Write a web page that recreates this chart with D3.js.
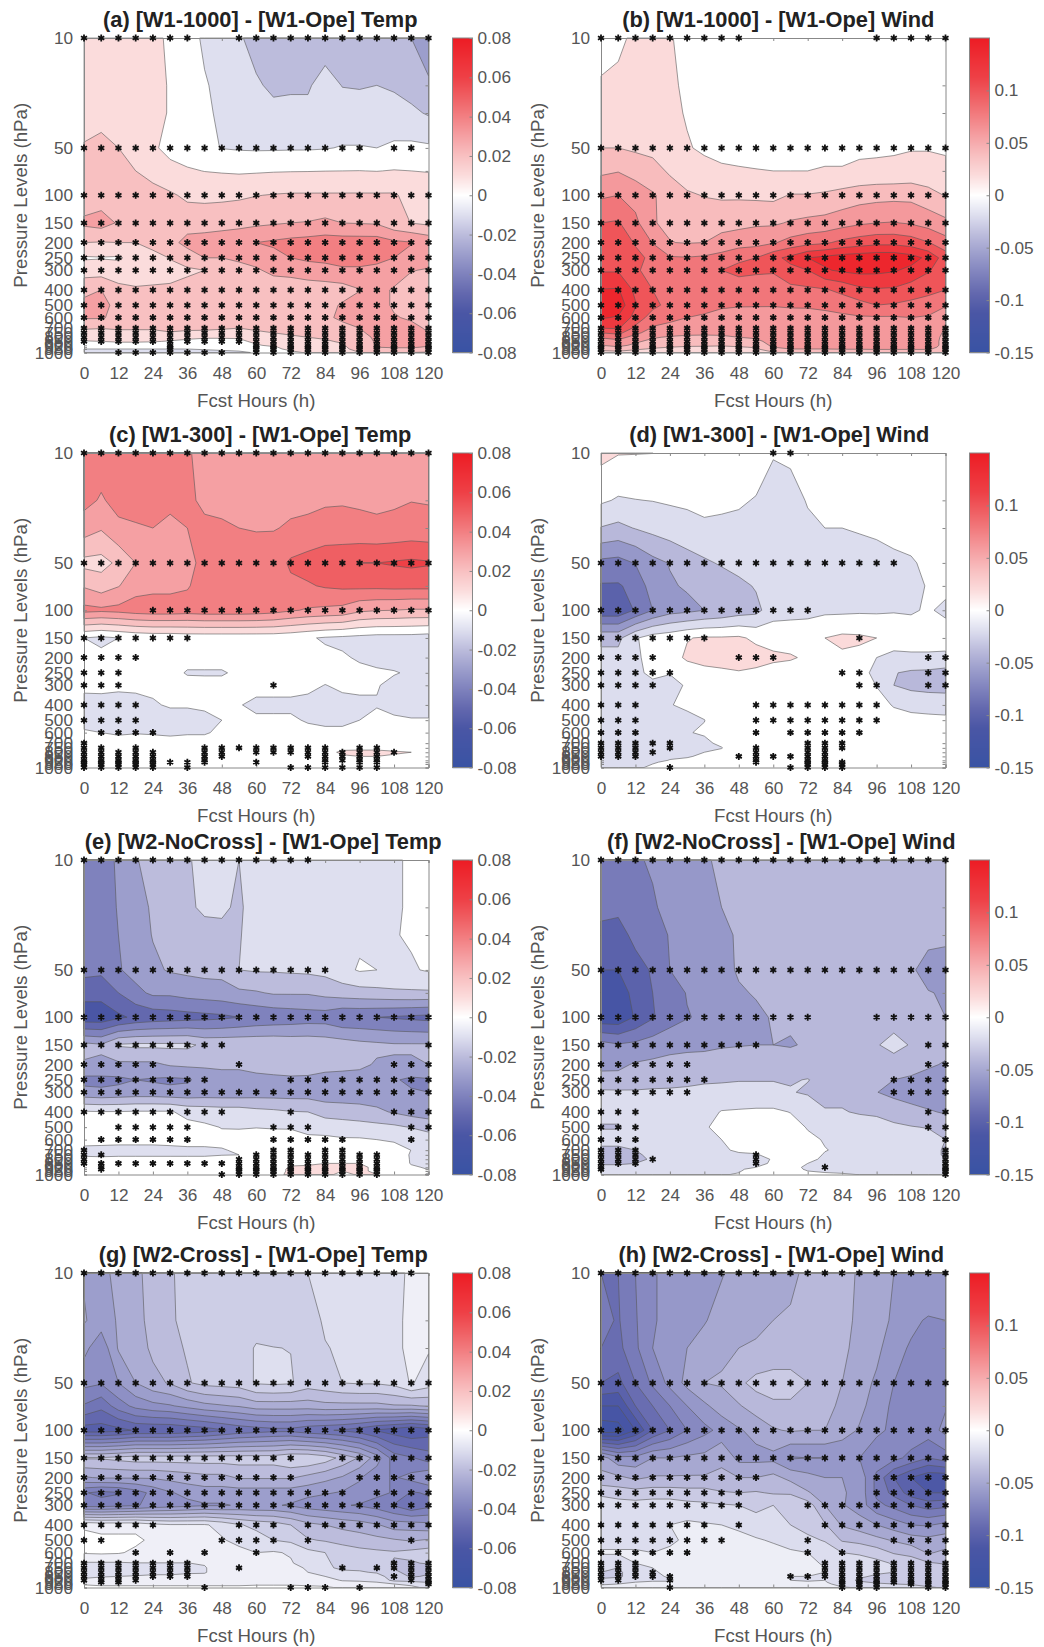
<!DOCTYPE html>
<html>
<head>
<meta charset="utf-8">
<script src="https://d3js.org/d3.v7.min.js"></script>
<style>
  body { margin: 0; background: #fff; }
  text { font-family: "Liberation Sans", Arial, sans-serif; fill: #555; }
  .title { font-weight: bold; fill: #222; font-size: 21.8px; }
  .axis-label { font-size: 18.7px; }
  .tick text { font-size: 17.2px; fill: #555; }
  .tick line, .domain { stroke: #888; }
</style>
</head>
<body>
<div id="chart"></div>
<script>
// Axes
const levels = [10, 20, 30, 50, 70, 100, 150, 200, 250, 300, 400, 500, 600, 700, 750, 800, 850, 900, 925, 950, 1000];
const starLevels = [10, 50, 100, 150, 200, 250, 300, 400, 500, 600, 700, 750, 800, 850, 900, 925, 950, 1000];
const fcstHours = d3.range(0, 121, 6);
const hourTicks = [0, 12, 24, 36, 48, 60, 72, 84, 96, 108, 120];
const tempTicks = [-0.08, -0.06, -0.04, -0.02, 0, 0.02, 0.04, 0.06, 0.08];
const windTicks = [-0.15, -0.1, -0.05, 0, 0.05, 0.1];

const titles = [
  "(a) [W1-1000] - [W1-Ope] Temp", "(b) [W1-1000] - [W1-Ope] Wind",
  "(c) [W1-300] - [W1-Ope] Temp", "(d) [W1-300] - [W1-Ope] Wind",
  "(e) [W2-NoCross] - [W1-Ope] Temp", "(f) [W2-NoCross] - [W1-Ope] Wind",
  "(g) [W2-Cross] - [W1-Ope] Temp", "(h) [W2-Cross] - [W1-Ope] Wind"
];

// Differences in units of 0.001. Rows follow levels, columns follow fcstHours.
const aTemp = [
  [10,10,10,10,8,3,0,-7,-9,-14,-18,-19,-20,-20,-20,-20,-20,-20,-22,-25,-29],
  [10,10,10,10,9,4,-1,-4,-8,-11,-14,-16.5,-16,-16,-11.4,-15.3,-15.7,-15,-16,-19,-24],
  [10,10,10,10,9,4,-1,-3,-7,-9,-11,-13,-13,-13,-10,-11,-11,-11,-12,-13,-16],
  [16,19,15,13,6,3,0,-3,-5.3,-6,-6.3,-6.2,-6,-6,-5.5,-4.5,-4.5,-5,-3.2,-3,-3.5],
  [18,19,17.5,15,12,7,6,4.8,4.2,3.7,4,4.4,4.6,4.7,4.9,5,5.1,4.8,5.4,5,4.6],
  [19,20,20,19,18,16.5,13,12.5,13,13.5,14.7,15.5,16,16,16,16,16,16,16,12,11],
  [27,29,24,22,22,21,21,21,21,22,23,24,25,25.5,27,25,24.5,24,18,14.8,13],
  [15,14.5,15,15,20,22,28,29,31,32,35,36.5,38,39,40,40,40,40,37,35.5,32],
  [4,4.5,4,8,10,15.5,20,25,25,27,28,32,35,37,38,40,40,38,35,32,30],
  [10,10,9,9,10,12,13.5,15,18,21,24,27,28,30,31,33,33,32,30,25.5,24],
  [23,25,18,16.3,16.7,16.5,18,19,20,21,22,20,19.7,20,20.5,21,24.6,28,24,20,19],
  [27,27,23,22,22,22,22,22,22,22,22,22,22,22,22,26,29,28,24,21,20],
  [26,26,22,20,20,20,20,20,20,21,21,21,21,22,23,27,29,29,25.6,24,23],
  [16,15.2,15.5,15.5,15.5,17,16,15.8,15.5,15,16,17,18,19,20,22,25,27,27,27,24],
  [12,13,14,14,14,14.5,14,14,13.5,13,14,15,16,17,18,21,24,27,27,27,25],
  [8,9,10,10,10,8,7,6,6,6,10,12,14,15,16,18,23,26,27,27,27],
  [4.5,5,6,6,5.5,4.5,3,2,2,3,7,9,11,13,14,16,21,26,27,27,28],
  [1,1,1,1,1,1,1,1,1,1,4,7,9,11,12,14,20,25.5,27,27,26],
  [-2,-2,-2,-2,-2,-2,-2,-1.5,-1,-1,1,4,8,10,11,13.5,19,25,25.5,26,24],
  [-5,-5,-5,-5,-5,-5,-5,-4.5,-4,-3.5,-1.5,3,7,9,10,13,18,24,24,23,21],
  [-8,-8,-8,-8,-8,-8,-8,-7,-6.5,-6,-4.5,1.5,3,6,8,12,15,15,15,15,14]
];

// These were easier to read hour by hour, so each line below is one column
const bWind = d3.transpose([
  [2,12,15,30,46,67,90,98,104,108,131,145,132,110,90,72,60,50,45,38,20],
  [6,14,15,30,49,70,92,103,108,108,132,142,128,112,95,78,64,55,48,40,24],
  [14,15,16,27,42,62,75,88,96,92,105,112,103,85,75,62,53,46,40,33,20],
  [14,15,15,24,38,52,51,69,85,85,90,96,80,68,60,52,45,38,33,28,12],
  [11,12,13,17,27,42,47,50.5,72,82,85,83,75,64,58,48,40,35,30,25,14],
  [6,8,9,11,18,33,45,49,71,83,85,80,70,62,55,46,38,33,28,23,13],
  [3,5,6,8,14,29,43,50,73,85,87,77,67,60,54,46,38,32,28,23,14],
  [3,4,5,6,12,27,44,56,78,90,86,72,65,60,54,47,38,31,28,26,22],
  [3,4,5,6,11,27,45,60,88,93,84,71,64,60,56,50,42,33,29,26,22],
  [3,4,4,5,10.5,26,47,63,90,92,83,71,63,60,56,52,46,38,31,28,24],
  [3,3,4,5,10,25,47,68,105,92,80,71,62,60,58,57,56,54,50,44,28],
  [3,3,4,5,10,31,52,77,115,105,84,72,63,60,58,57,56,55,53,50,35],
  [3,3,4,5,10,31,55,83,130,110,86,72,64,60,58,57,56,55,53,50,35],
  [3,3,4,6,11,33,57,87,135,128,88,73,66,61,59,58,57,55,53,50,35],
  [2,3,4,6,11,37,62,95,140,133,95,78,66,62,60,58,57,56,54,51,36],
  [2,3,4,7,13,41,67,100,142,136,105,83,68,62,60,59,58,57,54,51,36],
  [2,3,4,7,14,43,70,104,144,135,108,90,68,62,60,60,59,58,55,52,36],
  [2,3,4,8,14,44,71,104,144,132,107,88,68,62,60,60,60,58,55,52,36],
  [2,3,4,9,16,44,68,100,138,125,100,85,70,62,60,60,60,58,55,52,36],
  [2,3,4,9,16,37,62,91,125,112,96,80,68,60,58,58,58,58,56,52,35],
  [2,3,4,8,14,29,55,78,100,98,90,72,56,50,48,46,45,45,44,42,30]
]);

const cTemp = d3.transpose([
  [40,38,30,12,24,38,-5,-3,-2,-3,-8,-8,-4,-2,-2,-2,-2,-1,-1,-1,-1],
  [40,34,26,11.5,20,37,-7,-3,-2,-2,-9,-9,-5,-2,-2,-2,-2,-1,-1,-1,-1],
  [40,38,33,17,24.5,38,-5,-3,-2,-3,-9,-10,-6,-2,-2,-2,-2,-1,-1,-1,-1],
  [40,39,34,25,31,40,-3,-2,-2,-3,-8,-11,-5.5,-1,-1,-1,-1,-1,-1,-1,-1],
  [40,38,35,29,32,41,-2,-1,-1,-3,-6,-10,-6,-1,-1,-1,-1,0,0,0,0],
  [40,38,32,29,32,41,-2,-1,-1,-2,-4,-9,-7,-1,-1,-1,-1,0,0,0,0],
  [36,36,35,32,34,40,-1,-1,-6,-1,-4,-9,-6,-1,-1,0,0,0,0,0,0],
  [32,34,36,38,40,41,-1,-1,-6,-2,-3,-8,-6,-1,-1,0,0,0,0,0,0],
  [31,33,36,38,40,41,-1,-1,-6,-2,-3,-5,-3,-1,0,0,0,0,0,0,0],
  [31,32,35,38,40,41,-1,-1,-3,-2,-4.5,-3,-1,0,0,0,1,1,1,0,0],
  [31,32,34.5,39,41,40.5,-1,0,-1,-2,-7,-3.5,-1,0,0,0,1,1,1,0,0],
  [31,32,34.5,40,42,39,-1,0,-1,-2,-7,-3.5,-2,0,0,1,1,2,2,1,0],
  [32,33,36,46.5,43,36,-2,-1,-1,-2,-7,-3.5,-2,0,0,1,2,2,2,1,0],
  [32,33,37,49,44,34,-4,-2,-2,-3,-7.5,-6,-2,0,1,2,2,2,2,1,0],
  [32,34,38,52,46,33,-6,-3,-2,-5.2,-8,-7,-3,0,1,2,3,3,2,1,0],
  [32,34.5,37,54,47,32,-7,-4,-3,-3.5,-7.5,-7,-3,1,3,6.5,4,3,2,1,0],
  [32,34,37,55,47.5,27,-8,-6,-3,-3.5,-6.5,-5,-2,1,3,7,5,3,2,1,0],
  [32,33.5,36.5,55,47.5,25.5,-9,-8,-3.5,-4.5,-5.5,-3,-1,1,3,7,5,3,2,1,0],
  [33,34,37,56,48,25,-9,-8,-4.5,-7,-7,-4,-1,1,2,6,4,3,2,1,0],
  [32,34.8,38,57,48,24,-9,-9,-6,-8,-8,-4.5,-1,0,1,5,3,2,1,0,0],
  [32,34.5,37.5,56,48,24,-10,-9,-7,-8,-8,-4.5,-2,-1,0,2,2,1,1,0,0]
]);

const dWind = d3.transpose([
  [16,-7,-31,-75,-92,-105,-35,-24,-20,-20,-20,-22,-24,-28,-28,-28,-24,-20,-18,-16,-14],
  [11,-12,-35,-77,-92,-105,-35,-24,-20,-20,-20,-22,-24,-28,-28,-27,-24,-20,-18,-16,-14],
  [10.6,-10.5,-29,-69,-84,-88,-12,-12,-12,-14,-18,-20,-20,-25,-26,-26,-24,-18,-16,-15,-12],
  [10.2,-9.5,-24,-56,-60,-70,-1,-6,-8,-12,-15,-18,-18,-20,-20,-20,-18,-14,-12,-10,-8],
  [1,-8,-19,-49,-52,-58,2,2,-9.5,-13,-10.5,-14,-15,-16,-15,-14,-12,-9.5,-6,-3,0],
  [0,-7,-16,-39,-48,-55,9,13,0,-9,-8,-13,-10.5,-14,-13,-12,-11,-8,-6,-3,0],
  [0,-6,-12.5,-33,-47,-50,12,16,5,-4,-5,-10.2,-9,-12,-11,-10,-8,-6,-4,-3,0],
  [0,-7,-13,-28,-40,-46,12,19,6,-3,-3,-5,-6,-8,-10.4,-8,-6,-5,-3,-2,0],
  [0,-8,-14,-21,-36,-40,13,23,8,-2,-2,-3,-4,-4,-3,-3,-3,-2,-1,-1,0],
  [-1,-11,-14,-18,-28,-36,6,18,6,-2,-2,-2,-2,-2,-2,-2,-1,-1,0,0,0],
  [-8,-22,-17,-17,-20,-18,2,14,2,-2,-2,-2,-1,-1,-1,-1,0,0,0,0,0],
  [-6,-18,-16,-16,-18,-16,1,12,1,0,0,-1,-1,-1,-1,-1,0,0,0,0,0],
  [-3,-8.5,-14,-16,-18,-15,1,7,0,0,0,0,0,0,0,0,0,0,0,0,0],
  [-2,-6,-10,-16,-17,-14,10,2,0,0,0,0,0,0,0,0,0,0,0,0,0],
  [-2,-6,-10,-15,-16,-14,14,7,0,0,0,0,0,0,0,0,0,0,0,0,0],
  [-1,-5,-9,-15,-15,-13,13,5,-6,-1,0,12,0,0,0,0,0,0,0,0,0],
  [-1,-5,-8,-14,-15,-13,10,-10,-13,-10.5,-5,-3,-2,-1,0,0,0,0,0,0,0],
  [-1,-4,-7,-12,-15,-12,9,-20,-29,-30,-11,-5,-3,-1,0,0,0,0,0,0,0],
  [0,-3,-6,-11,-14,-12,0,-14,-33,-36,-14,-6,-3,-1,0,0,0,0,0,0,0],
  [0,-3,-5,-8,-9,-8,0,-14,-34,-38,-16,-6,-3,-1,0,0,0,0,0,0,0],
  [0,-2,-4,-4,-5,-14,0,-15,-37,-38,-18,-6,-3,-1,0,0,0,0,0,0,0]
]);

const eTemp = d3.transpose([
  [-40,-42,-42,-42,-51,-62,-22,-26,-38,-32,-4,-2,-2,-7,-6,-3,-1,0,0,0,1],
  [-41,-42,-43,-43,-51,-62,-24,-26,-38,-33,-4.5,-2,-2.5,-7,-6.5,-3,-1,0,0,0,1],
  [-33,-34,-35,-36,-45,-57,-14,-27,-37,-32,-4.5,-2,-3,-7,-6,-3,-1,0,0,0,1],
  [-26,-28,-30,-31,-38,-53,-13,-27,-35,-31,-4,-2,-3,-7,-6,-3,-1,0,0,0,1],
  [-20,-24,-24.5,-27,-33,-51,-13,-27,-36,-31,-4,-2,-3,-7,-6,-3,-1,0,0,0,1],
  [-18,-19,-20,-24,-33,-50,-13,-24,-37,-32,-4,-2,-3,-6.5,-6,-3,-1,0,0,0,1],
  [-16,-16,-18,-23,-31,-49,-13,-23,-36,-32,-8,-2,-3,-6,-6,-3,-1,0,0,0,1],
  [-12,-14,-17,-22,-30,-48,-17,-23,-32,-31,-9,-3.5,-3,-6,-6,-3,-1,0,0,0,1],
  [-12,-14,-16.5,-22,-29,-47,-17,-22,-31,-31,-10,-5.3,-3,-5.5,-5.2,-3,-1,0,0,0,1],
  [-15,-16,-15.5,-15,-27,-45,-17,-22,-31,-31,-10,-5.4,-3,-4,-5,-3,-1,0,0,0,1],
  [-12,-12,-12,-14,-26,-43,-17,-20,-29,-30,-12,-5.2,-2,-1,0,0,0,0,0,0,1],
  [-11,-11,-11,-14,-24,-42,-17,-19,-28,-30,-13,-5.5,-2,-1,0,0,0,0,0,0,2],
  [-11,-11,-11,-13.5,-24,-41,-18,-19,-27,-30,-14.5,-5.5,-2.5,-1,0,1,3,6,7,7,7],
  [-10,-10,-10,-13,-24,-40,-18,-20,-27,-30,-15,-8,-3,-1,0,2,4,6,6,6,6],
  [-10,-10,-10,-12,-22,-40,-19,-21,-29,-31,-19,-9,-3,-1,0,2,5,6,6,6,6],
  [-9,-9,-9,-8,-20,-44,-20,-22,-29,-31,-20,-10,-4,-1,0,2,5,6,6,5,4],
  [-9,-9,-7,-4,-19,-44,-22,-23,-29,-31,-21,-11,-4,-1,1,2,5,6,6,6,5.5],
  [-8,-8,-6,-5,-18,-45,-23,-26,-30,-31,-23,-12,-5,-2,-1,0,3,4,4,4,5],
  [-6,-6,-5.5,-5.5,-17,-46,-24,-26,-34,-33,-26,-13,-6,-2,-2,-1,0,0,0,0,0],
  [-4,-4,-4,-6,-16.5,-47,-24,-26,-37,-34,-29,-15.5,-7,-5.1,-5.5,-5.5,-5.5,-4,-3,-2,-1],
  [-3,-3,-3,-4,-16.5,-48,-24,-25,-36,-35,-31,-18,-10.5,-9,-8,-8,-7,-5.8,-5.2,-4,-6]
]);

const fWind = d3.transpose([
  [-75,-85,-95,-110,-118,-125,-62,-53,-46,-26,-26,-31,-25,-33,-36,-36,-32,-26,-25,-24,-20],
  [-77,-86,-97,-110,-118,-125,-68,-54,-44,-27,-26,-31,-25,-33,-36,-36,-32,-26,-24,-23,-20],
  [-72,-78,-85,-97,-105,-108,-65,-48,-43,-27,-25,-26,-24,-30,-32,-32,-30,-24,-23,-22,-20],
  [-68,-72,-77,-88,-90,-92,-60,-46,-40,-26,-22,-22,-22,-25,-27,-29,-26,-23,-22,-20,-18],
  [-62,-65,-69,-70,-79,-78,-57,-43,-38,-26,-21,-20,-20,-22,-23,-24,-22,-21,-20,-18,-16],
  [-60,-62,-65,-68,-69,-71,-55,-42,-36,-25,-20,-18,-18,-20,-19,-18,-18,-17,-16,-15,-14],
  [-52,-57,-60,-63,-66,-67,-54,-42,-33,-24,-17,-11.5,-16,-18,-18,-17,-16,-15,-15,-14,-13],
  [-47,-50,-54,-59,-62,-65,-52,-40,-32,-24,-9,-6,-10,-11,-12,-13,-13,-13,-13,-12,-11],
  [-46,-47,-48,-47,-53,-60,-51,-39,-31,-23,-8,-4,-6,-9,-11,-15,-15,-13,-12,-11,-9],
  [-44,-44,-44,-44,-48,-55,-50,-38,-31,-23,-7,-3,-4,-7,-11,-18,-16,-10,-6,-5,-2],
  [-42,-42,-42,-42,-45,-48,-50,-37,-31,-23,-7,-2,-3,-5,-6,-8,-7,-5,-4,-3,-1],
  [-41,-41,-41,-42,-44,-46,-52,-36,-31,-29,-10.5,-4,-3,-3,-4,-7,-5,-3,-2,-2,-1],
  [-41,-41,-41,-42,-43,-42,-47,-37,-29.5,-32,-18,-11,-7,-5,-5,-6,-10,-14,-13,-10,-3],
  [-41,-41,-41,-42,-42,-41,-45,-38,-34,-32,-29.5,-16,-11,-9.5,-11,-13,-16,-19,-16,-14,-5],
  [-41,-41,-41,-42,-41,-40,-42,-40,-37,-34,-29,-21,-14,-12,-13,-15,-17,-17,-15,-14,-8],
  [-41,-41,-41,-41,-41,-40,-40,-40,-38,-36,-31.5,-22,-15,-14,-15,-17,-19,-20,-18,-16,-10.5],
  [-41,-41,-41,-41,-42,-40,-32,-40,-44,-49.5,-33,-23,-16,-17,-18,-18,-19,-19,-18,-16,-14],
  [-41,-41,-41,-43,-43,-42,-21,-42,-50,-56,-37,-27,-18,-17,-18,-18,-19,-19,-18,-17,-16],
  [-41,-41,-41,-47,-44,-42,-32,-42,-53,-60,-43,-29,-20,-19,-19,-19,-20,-20,-20,-19,-18],
  [-41,-41,-44,-58,-49,-44,-38,-47,-58,-62,-48,-31,-22,-21,-21,-20,-20,-20,-20,-20,-18],
  [-41,-42,-47,-56,-52,-50,-43,-52,-60,-63,-52,-37,-30,-33,-33,-30,-27,-27,-27,-26,-25]
]);

const gTemp = d3.transpose([
  [-28,-27,-31,-36,-43,-55,-17,-28,-42,-40,-3,-1.5,-2,-8,-12,-12,-9,-6,-4,-3,-1],
  [-28,-30,-36,-37,-46,-55,-17,-27,-44,-40,-4,-1.5,-1.7,-8,-12,-12,-8,-5,-4,-3,-2],
  [-27,-27,-27,-32.5,-40,-54,-16,-27,-43,-39,-4,-1.5,-2,-8,-11,-11,-7.5,-5,-3.5,-3,-2],
  [-24,-24,-25,-27.5,-36,-52,-15,-27,-40,-38,-4,-1.5,-3.5,-7.6,-10,-10,-7,-5,-4,-3,-2],
  [-20,-21,-21.5,-24,-34,-52,-15,-27,-36,-36,-6,-3.5,-4,-7.6,-9,-9,-6.5,-5,-4,-3,-2],
  [-18,-18,-19,-22,-33,-52,-15,-26,-33,-35,-7,-4,-4,-7.6,-9,-9,-6.5,-5,-4,-3,-2],
  [-16,-16.5,-17,-18,-31,-51,-15,-25,-31,-34,-7,-4,-4,-7.6,-9,-8,-6.5,-5,-4,-3,-2],
  [-15,-15,-15,-16,-29,-50,-15,-24,-30,-33,-7,-4,-4,-7,-8,-8,-6,-5,-4,-3,-2],
  [-15,-15,-15,-15.5,-28,-48,-15,-24,-30,-33,-9,-7,-4,-4,-4,-4,-4,-4,-4,-3,-2],
  [-15,-15,-15,-15,-27,-46,-15,-22,-30,-32,-12,-9,-6,-4,-4,-3.5,-3.5,-3.5,-3.5,-3,-2],
  [-15,-15,-12,-12,-25,-45,-15,-22,-30,-32,-14,-10,-7.5,-4,-3.5,-3.5,-3,-3,-3,-3,-1.5],
  [-15,-15,-12.4,-11.5,-25,-44,-15,-22,-30,-32,-15,-12.5,-7,-5,-4,-3.5,-3,-3,-3,-3,-1.5],
  [-15,-15,-12.6,-12,-25,-44,-13,-22,-30,-33,-17.5,-13.5,-8,-7,-5,-4,-3,-3,-3,-3,-1.5],
  [-12.5,-14,-15,-15,-25,-46,-13,-24,-31,-35,-21,-17,-11,-10,-8.5,-7.5,-5,-4,-4,-3,-2],
  [-11,-12,-12.7,-14,-24,-47,-15,-26,-32,-36,-22.5,-18,-12.5,-12,-12,-9.5,-7.5,-5,-4,-3.5,-2],
  [-11,-11,-12,-12.5,-24,-48,-19,-28,-33,-37,-24,-19,-15,-13.5,-13,-12,-10,-8,-6,-5,-3],
  [-11,-11,-11.5,-12,-24,-50,-23,-32,-34,-38,-25,-20,-16,-14,-13.5,-12,-9.5,-8,-7,-6,-3],
  [-11,-11,-11,-12,-24,-53,-30,-36,-36,-40,-27,-21,-16.5,-15,-14,-13,-10.5,-8.5,-7.5,-6.5,-5],
  [-10,-9,-9,-11,-23,-55,-40,-38,-38,-43,-30,-22,-17,-18,-18,-16,-15,-14,-10,-7.5,-6],
  [-6,-6,-6,-7,-23,-57,-42,-36,-43,-47,-30,-23,-16,-18,-20,-20,-18,-15,-11,-8,-7],
  [-6,-6,-7,-10,-22,-55,-45,-33,-42,-44,-31,-22,-15,-17,-20,-18,-17,-17,-13,-10,-8]
]);

const hWind = d3.transpose([
  [-85,-82,-85,-95,-115,-132,-50,-42,-28,-17,-15,-18,-14,-20,-24,-25,-26,-24,-20,-16,-12],
  [-85,-86,-88,-98,-115,-130,-62,-43,-30,-20,-16,-18,-14,-20,-25,-26,-26,-22,-18,-15,-12],
  [-75,-76,-77,-85,-95,-115,-62,-47,-31,-21,-16,-18,-14,-15,-20,-22,-22,-18,-15,-13,-11],
  [-66,-66,-65,-73,-85,-95,-55,-44,-30,-20,-15,-17,-15,-14,-15,-16,-17,-16,-14,-12,-11],
  [-62,-62,-60,-62,-75,-85,-55,-44,-30,-20,-15,-16,-14,-13,-13,-13,-14,-16,-14,-12,-10],
  [-60,-60,-55,-52,-65,-75,-53,-44,-31,-22,-13,-14,-13,-12,-11,-11,-11,-11,-11,-11,-10],
  [-59,-56,-50,-45,-57,-68,-52,-44,-31,-23,-14,-12,-10,-9,-9,-9,-9,-9,-9,-9,-8],
  [-56,-50,-47,-44,-50,-62,-46,-44,-34,-24,-15,-12,-9,-5.5,-7,-8,-8,-8,-8,-8,-8],
  [-50,-48,-45,-37,-46,-56,-58,-45,-35,-25,-17,-12,-9,-7,-7,-8,-8,-8,-8,-8,-8],
  [-50,-47,-44,-32,-40,-52,-58,-45,-34,-28,-20,-14,-10,-8,-8,-8,-8,-8,-8,-8,-8],
  [-48,-45,-43,-30,-37,-46,-58,-42,-36,-25,-22,-16,-12,-9,-9,-9,-10,-10,-10,-9,-8],
  [-47,-44,-43,-30,-37,-44,-66,-48,-36,-28,-25,-18,-14,-11,-11,-12,-15,-15,-13,-11,-9],
  [-43,-43,-43,-34.9,-40,-45,-65,-52,-44,-30,-30,-22,-15,-13,-13,-14,-15,-16,-14,-12,-9],
  [-42,-42,-42,-42,-42,-45,-65,-55,-50,-45,-34,-26,-18,-16,-15,-15,-15,-15,-14,-12,-9],
  [-42,-42,-43,-45,-47,-50,-64,-55,-54,-54,-46,-36,-25,-17,-17,-18,-20,-22,-22,-20,-14],
  [-46,-47,-48,-50,-52,-56,-65,-58,-58,-60,-50,-38,-27,-18,-18,-20,-24,-26,-24,-22,-16],
  [-50,-50,-52,-57,-60,-64,-68,-78,-78,-72,-55,-42,-30,-22,-22,-24,-26,-28,-26,-24,-18],
  [-55,-57,-62,-65,-67,-66,-72,-95,-88,-78,-60,-46,-36,-26,-25,-25,-28,-30,-28,-25,-19],
  [-60,-63,-66,-68,-68,-68,-78,-105,-100,-85,-65,-50,-38,-30,-30,-28,-32,-32,-28,-26,-20],
  [-55,-66,-72,-70,-70,-70,-85,-112,-105,-90,-66,-52,-46,-34,-32,-30,-33,-32,-30,-28,-24],
  [-60,-65,-68,-68,-66,-62,-80,-112,-105,-88,-62,-50,-43,-36,-32,-32,-33,-33,-32,-30,-26]
]);

// Significance marks: one string per starLevels entry, one character per fcstHours entry
const ALL = "xxxxxxxxxxxxxxxxxxxxx";
const aStars = ["xxxxxxx..xxxxxxxxxxxx", "xxxxxxxxxxxxxxxxx.xx.", ALL, ALL, ALL, ALL, ALL, ALL, ALL, ALL, ALL, ALL, ALL, ALL,
  ".....x....xxxxxxxxxxx", ".....x....xxxxxxxxxxx", ".....x....xxxxxxxxxxx", "..xxxxxxx.xxxxxxxxxxx"];
const bStars = ["xxxxxxxxx.......xxxxx", ALL, ALL, ALL, ALL, ALL, ALL, ALL, ALL, ALL, ALL, ALL, ALL, ALL, ALL, ALL, ALL, ALL];
const cStars = [ALL, ALL, "....xxxxxxxxxxxxxxxxx", "xxxxxxx..............", "xxxx.................", "xxx..................",
  "xxx........x.........", "xxxx.................", "xxxx.................", ".xxxx................", "x....................",
  "xx.x...xxxxxxxx.xx...", "xxxxx..xx.xxxxxxxxx..", "xxxxx..xx....xxxxx...", "xxxxx..x......xxxx...",
  "xxxxxxxx..x...x.xx...", "xxxxx................", "xxxxx.x.....xxxxxx..."];
const dStars = ["..........xx.........", "xxxxxxxxxxxxxxxxxx...", "xxxxxxxxxxxxx........", "xxxxxxx........x.....",
  "xxxx....xxx........xx", "xxxxx.........xx...xx", "xxxx...........xx..xx", "xxx......xxxxxxxx....", "xxx......xxxxxxxx....",
  "xxx......x.xxxxx.....", "xxxxx.......xxx......", "xxx.x....x..xxx......", "xxxx.....x..xx.......", "xxx.....xxxxxx.......",
  ".........x..xx.......", ".........x..xxx......", "............xxx......", "....x......xxxx......"];
const eStars = ["xxxxxxxxxxxxxx.......", "xxxxxxxxxxxxxxx......", ALL, "xxxxxxxxx...........x", "xxxxx....x........xxx",
  "xxxxxxxx....xxxxxxxxx", ALL, "xxxxxxxxx...x.....xxx", "..xxxxx....xxx.....xx", ".xxxxxx....xxxxx...x.", "x..........xx.xx.....",
  "xx........xxxxxxxx...", "x........xxxxxxxxx...", "xxxxxxxxxxxxxxxxxx...", ".x.......xxxxxxxxx...", ".x.......xxxxxxxxx...",
  ".........xxxxxxxxx...", "........xxxxxxxxxx..."];
const fStars = [ALL, ALL, "xxxxxxxxxxxxx...xxxxx", "xxxxxxxxxx.........xx", "xxxxxx.............xx", "xxxxxxx..........xxxx",
  "xxxxxx...........xxxx", "xxx................xx", "xxx................xx", "xxx.................x", "xxx.................x",
  "xxx......x..........x", "xxxx.....x..........x", "xxx......x..........x", "x............x......x", "x...................x",
  "....................x", "....................x"];
const gStars = ["xxxxxxxxxxxxxxxxxxxx.", ALL, ALL, "xxxxxxxxxxxxx..xxxxxx", "xxxxxxxxxxxxx...xxxxx", "xxxxxxxxxxxxxxxx.xxxx", ALL,
  "xxxxx....xxx.xxxxxxxx", "xx......xxxx.x.....x.", "...x.x.x..x..........", "xxxxxxx...........xxx", "xxxxxxx..x.....x.xxxx",
  "xxxxxxx............xx", "xxxxxxx...........xxx", "xxxx...............xx", ".xx.................x", "....................x",
  ".......x....xxx.x...."];
const hStars = [ALL, ALL, ALL, ALL, "xxxxxxxxxx......xxxxx", "xxxxxxxxx.......xxxxx", "xxxxxxxxx...xxxxxxxxx", "xxxxxxx.x....xxxxxxxx",
  "xxxxxxxx....x....xxxx", "xxxxxx......x.x....xx", "xxx..........xxxxxxxx", "xxx..........xxxxxxxx", "xxxx.........xxxxxxxx",
  "xxxxx......xxxxxxxxxx", "xx..x.........xxxxxxx", "..............xxxxxxx", "..............xxx.xxx", "....x.........xxx..xx"];

// Panel table built from the arrays above
const panelData = [aTemp, bWind, cTemp, dWind, eTemp, fWind, gTemp, hWind];
const panelStars = [aStars, bStars, cStars, dStars, eStars, fStars, gStars, hStars];
const panelSteps = [10, 20, 10, 20, 10, 20, 5, 10];
const titleShift = [4, 5, 4, 6, 7, 8, 7, 8];

const width = 1044, height = 1647;
const colLefts = [84, 601];
const rowTops = [38, 453, 860, 1273];
const plotW = 344.5, plotH = 314.5;

const redColor = d3.scaleLinear().domain([0, 1, 2, 3, 4, 5, 6, 8]).range(["#ffffff", "#fbdcdc", "#f8c0c1", "#f5a0a3", "#f27f82", "#ef5f63", "#ee4046", "#ed1c24"]);
const blueColor = d3.scaleLinear().domain([0, 1, 2, 3, 4, 5, 6, 8]).range(["#ffffff", "#dedfef", "#bcbcdc", "#9c9ecc", "#7f82bd", "#6368ae", "#4a56a5", "#3953a4"]);

// v is the value as a fraction of the colour bar range
function colormap(v) {
  return v >= 0 ? redColor(v * 8) : blueColor(-v * 8);
}

const svg = d3.select("#chart").append("svg")
  .attr("width", width).attr("height", height)
  .attr("viewBox", [0, 0, width, height])
  .style("display", "block");

panelData.forEach((values, i) => {
  const isWind = i % 2 === 1;
  const left = colLefts[i % 2];
  const top = rowTops[Math.floor(i / 2)];
  const range = isWind ? 150 : 80;
  drawPanel(values, panelStars[i], panelSteps[i], range, left, top, titles[i], titleShift[i], isWind);
});

function drawPanel(values, stars, step, range, left, top, title, shift, isWind) {
  const g = svg.append("g").attr("transform", `translate(${left},${top})`);

  const x = d3.scaleLinear().domain([0, 120]).range([0, plotW]);
  const y = d3.scaleLog().domain([10, 1000]).range([0, plotH]);

  // d3.contours puts a grid value at index + 0.5 and runs to the grid edge, so clamp back
  const px = u => {
    const c = Math.max(0, Math.min(fcstHours.length - 1, u - 0.5));
    return x(c * 6);
  };
  const py = v => {
    const c = Math.max(0, Math.min(levels.length - 1, v - 0.5));
    const j = Math.min(levels.length - 2, Math.floor(c));
    return y(levels[j]) + (c - j) * (y(levels[j + 1]) - y(levels[j]));
  };
  const path = d3.geoPath(d3.geoTransform({
    point(u, v) { this.stream.point(px(u), py(v)); }
  }));

  const flat = values.flat();
  const contours = d3.contours().size([fcstHours.length, levels.length]);
  const bandCount = Math.ceil(range / step);

  g.append("rect").attr("width", plotW).attr("height", plotH).attr("fill", "#fff");

  [-1, 1].forEach(sign => {
    const signed = flat.map(d => d * sign);
    d3.range(bandCount).forEach(k => {
      const threshold = step / 2 + k * step;
      if (d3.max(signed) < threshold) return;
      const shape = contours.thresholds([threshold])(signed)[0];
      g.append("path")
        .attr("d", path(shape))
        .attr("fill", colormap(sign * (k + 1) * step / range))
        .attr("stroke", "#555")
        .attr("stroke-opacity", 0.65)
        .attr("stroke-width", 0.9);
    });
  });

  // Axes with inward ticks
  const xAxis = d3.axisBottom(x).tickValues(hourTicks).tickSize(-3).tickPadding(14);
  const yAxis = d3.axisLeft(y).tickValues(starLevels).tickFormat(d3.format("d")).tickSize(-3).tickPadding(11);
  g.append("g").attr("transform", `translate(0,${plotH})`).call(xAxis);
  g.append("g").call(yAxis);
  g.append("g").call(d3.axisTop(x).tickValues(hourTicks).tickSize(-3).tickFormat(""));
  g.append("g").attr("transform", `translate(${plotW},0)`)
    .call(d3.axisRight(y).tickValues(levels).tickSize(-3).tickFormat(""));

  // Significance marks
  const star = d3.symbol().type(d3.symbolAsterisk).size(34);
  stars.forEach((row, r) => {
    fcstHours.forEach((h, c) => {
      if (row[c] !== "x") return;
      g.append("path")
        .attr("d", star())
        .attr("transform", `translate(${x(h)},${y(starLevels[r])})`)
        .attr("fill", "none")
        .attr("stroke", "#111")
        .attr("stroke-width", 1.8);
    });
  });

  g.append("text").attr("class", "title")
    .attr("x", plotW / 2 + shift).attr("y", -11)
    .attr("text-anchor", "middle").text(title);
  g.append("text").attr("class", "axis-label")
    .attr("x", plotW / 2).attr("y", plotH + 54)
    .attr("text-anchor", "middle").text("Fcst Hours (h)");
  g.append("text").attr("class", "axis-label")
    .attr("transform", `translate(-57,${plotH / 2}) rotate(-90)`)
    .attr("text-anchor", "middle").text("Pressure Levels (hPa)");

  // Colour bar
  const barX = plotW + 24, barW = 20;
  const barScale = d3.scaleLinear().domain([-range / 1000, range / 1000]).range([plotH, 0]);
  const bar = g.append("g").attr("transform", `translate(${barX},0)`);
  bar.selectAll("rect").data(d3.range(0, plotH, 1)).enter().append("rect")
    .attr("y", d => d).attr("width", barW).attr("height", 1.2)
    .attr("fill", d => colormap(barScale.invert(d + 0.5) * 1000 / range));
  bar.append("rect").attr("width", barW).attr("height", plotH)
    .attr("fill", "none").attr("stroke", "#888");
  bar.append("g").attr("transform", `translate(${barW},0)`)
    .call(d3.axisRight(barScale).tickValues(isWind ? windTicks : tempTicks)
      .tickFormat(d => String(d)).tickSize(-3).tickPadding(5))
    .select(".domain").remove();
}
</script>
</body>
</html>
